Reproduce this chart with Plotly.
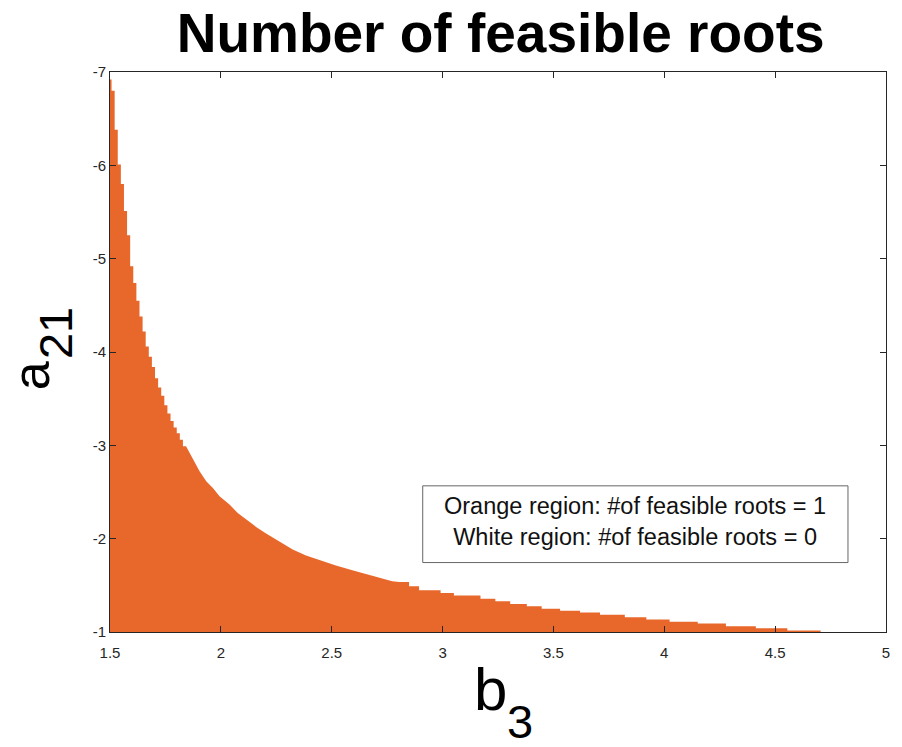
import plotly.graph_objects as go

# ---- data ----
# steep start: column edges (b3) and top-of-region level (a21) per column
start_edges = [1.500, 1.507, 1.521, 1.535, 1.549, 1.563, 1.577, 1.591, 1.605, 1.619,
               1.633, 1.647, 1.661, 1.675, 1.689, 1.703, 1.717, 1.731, 1.745, 1.759,
               1.773, 1.787, 1.801, 1.815, 1.829, 1.843]
start_levels = [-6.92, -6.80, -6.38, -6.01, -5.80, -5.51, -5.25, -4.92, -4.74, -4.55,
                -4.38, -4.22, -4.06, -3.95, -3.84, -3.72, -3.62, -3.53, -3.43, -3.34,
                -3.26, -3.19, -3.13, -3.06, -2.99]
# middle part of the boundary (fine staircase, traced as points)
mid_b3 = [1.867, 1.904, 1.934, 1.964, 1.994, 2.039, 2.076, 2.114, 2.159, 2.204,
          2.264, 2.324, 2.384, 2.444, 2.519, 2.593, 2.683, 2.773]
mid_a21 = [-2.882, -2.721, -2.614, -2.544, -2.454, -2.365, -2.276, -2.204, -2.126, -2.055,
           -1.972, -1.883, -1.819, -1.769, -1.712, -1.662, -1.605, -1.544]
# flat tail: step edges (b3) and levels (a21)
tail_edges = [2.804, 2.849, 2.894, 2.991, 3.051, 3.171, 3.238, 3.305, 3.380, 3.447,
              3.530, 3.620, 3.710, 3.822, 3.919, 4.024, 4.151, 4.278, 4.413, 4.555, 4.705]
tail_levels = [-1.537, -1.490, -1.447, -1.419, -1.390, -1.355, -1.330, -1.300, -1.276, -1.250,
               -1.229, -1.210, -1.186, -1.157, -1.133, -1.110, -1.090, -1.062, -1.040, -1.016]

x_ticks = [1.5, 2, 2.5, 3, 3.5, 4, 4.5, 5]
x_ticktext = ["1.5", "2", "2.5", "3", "3.5", "4", "4.5", "5"]
y_ticks = [-7, -6, -5, -4, -3, -2, -1]
y_ticktext = ["-7", "-6", "-5", "-4", "-3", "-2", "-1"]

BASE = -1.0
ORANGE = "#E8682C"
AX = "#262626"
FONT = "Liberation Sans, Arial, sans-serif"


def stairs(edges, levels):
    xs, ys = [], []
    for i, lv in enumerate(levels):
        xs += [edges[i], edges[i + 1]]
        ys += [lv, lv]
    return xs, ys


sx, sy = stairs(start_edges, start_levels)
tx, ty = stairs(tail_edges, tail_levels)
px = [start_edges[0]] + sx + mid_b3 + tx + [tail_edges[-1], start_edges[0]]
py = [BASE] + sy + mid_a21 + ty + [BASE, BASE]

fig = go.Figure()
fig.add_trace(go.Scatter(x=px, y=py, mode="lines", fill="toself",
                         fillcolor=ORANGE, line=dict(width=0, color=ORANGE),
                         hoverinfo="skip", showlegend=False))

axis_common = dict(showline=True, linecolor=AX, linewidth=1, mirror="ticks",
                   ticks="inside", ticklen=6, tickcolor=AX, tickwidth=1,
                   showgrid=False, zeroline=False,
                   tickfont=dict(family=FONT, size=15, color=AX))

fig.update_xaxes(range=[1.5, 5], tickvals=x_ticks, ticktext=x_ticktext,
                 ticklabelstandoff=7, **axis_common)
fig.update_yaxes(range=[-1, -7], tickvals=y_ticks, ticktext=y_ticktext, **axis_common)

# axis titles: symbol + large, low-set subscript (as in the reference)
fig.add_annotation(xref="paper", yref="paper", x=0.4906, y=-0.1026, text="b",
                   showarrow=False, xanchor="center", yanchor="middle",
                   font=dict(family=FONT, size=60, color="#000"))
fig.add_annotation(xref="paper", yref="paper", x=0.5285, y=-0.160, text="3",
                   showarrow=False, xanchor="center", yanchor="middle",
                   font=dict(family=FONT, size=47, color="#000"))
fig.add_annotation(xref="paper", yref="paper", x=-0.1023, y=0.4576, text="a",
                   showarrow=False, xanchor="center", yanchor="middle", textangle=-90,
                   font=dict(family=FONT, size=52, color="#000"))
fig.add_annotation(xref="paper", yref="paper", x=-0.0705, y=0.5344, text="21",
                   showarrow=False, xanchor="center", yanchor="middle", textangle=-90,
                   font=dict(family=FONT, size=47, color="#000"))

# legend-like text box
fig.add_shape(type="rect", xref="paper", yref="paper", x0=0.403, x1=0.951, y0=0.124, y1=0.261,
              line=dict(color="#666", width=1), fillcolor="white", layer="above")
fig.add_annotation(xref="paper", yref="paper", x=0.677, y=0.198, showarrow=False,
                   xanchor="center", yanchor="middle",
                   text="Orange region: #of feasible roots = 1<br>White region: #of feasible roots = 0",
                   align="center",
                   font=dict(family=FONT, size=23.5, color="#111"))

fig.update_layout(
    width=902, height=747,
    margin=dict(l=110, r=13, t=72, b=115),
    paper_bgcolor="white", plot_bgcolor="white",
    title=dict(text="<b>Number of feasible roots</b>", x=0.555, xanchor="center",
               y=0.982, yanchor="top",
               font=dict(family=FONT, size=55, color="#000")),
)

fig.write_html("out.html")
